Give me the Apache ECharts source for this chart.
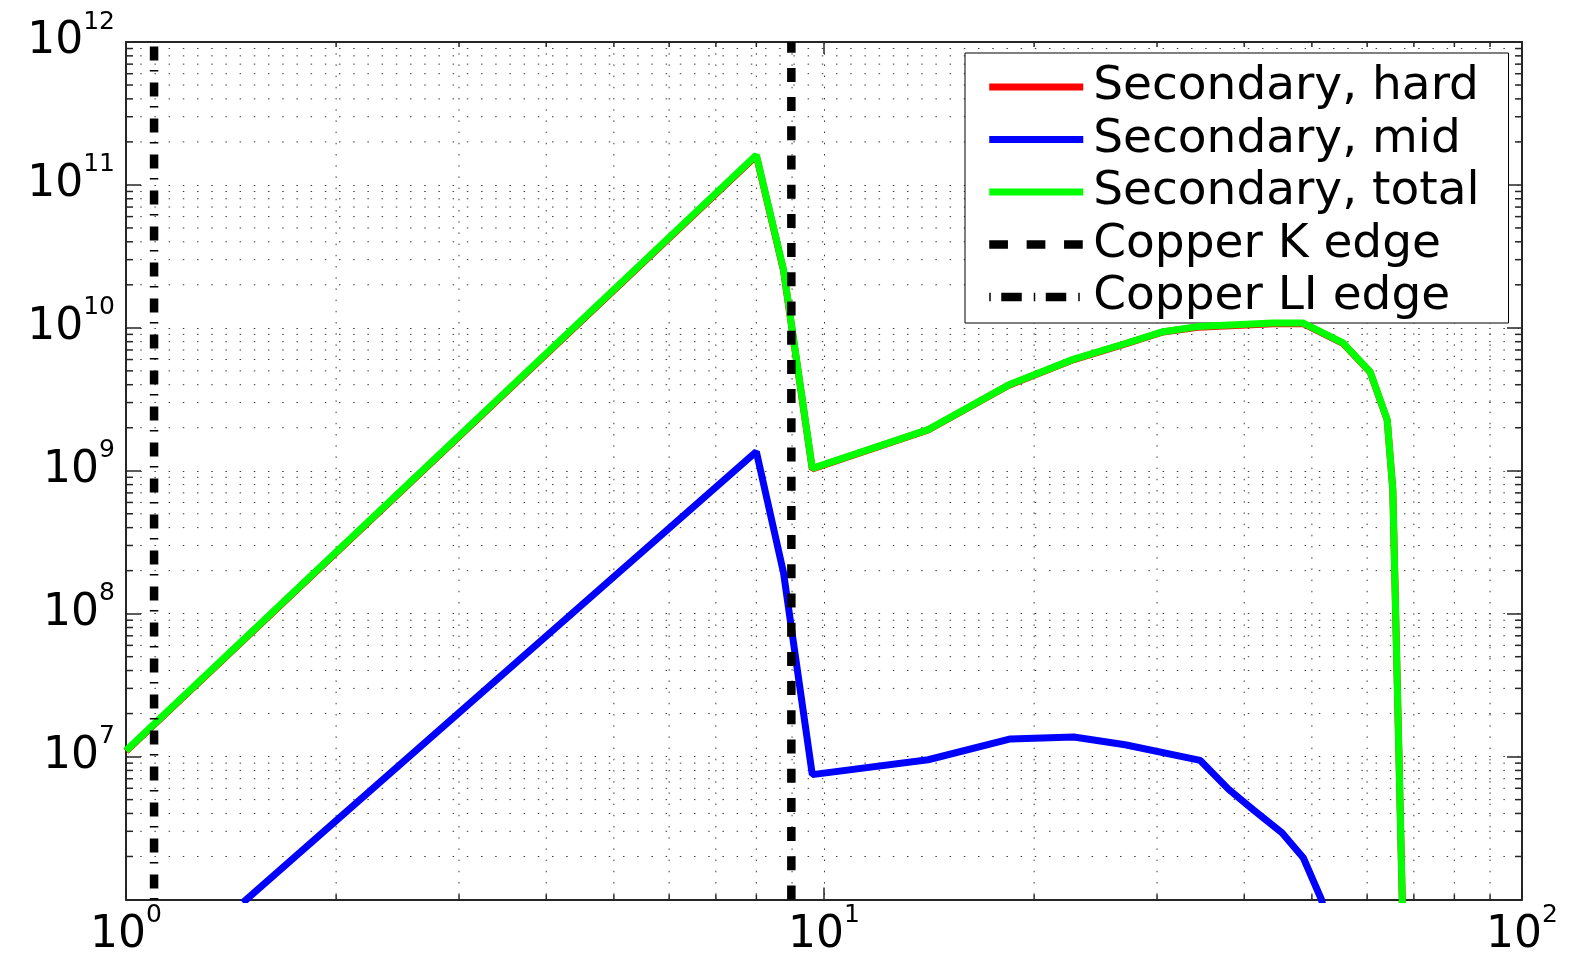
<!DOCTYPE html>
<html>
<head>
<meta charset="utf-8">
<script src="https://cdn.jsdelivr.net/npm/echarts@6/dist/echarts.min.js"></script>
<style>
html,body{margin:0;padding:0;background:#fff;}
#chart{width:1570px;height:968px;}
</style>
</head>
<body>
<div id="chart"></div>
<script>
// ---- axis limits ----
const X_MIN = 1, X_MAX = 100;
const Y_MIN = 1e6, Y_MAX = 1e12;

// ---- series: Secondary, hard ----
const HARD_X = [1.0, 8.0, 8.75, 9.62, 14.1, 18.4, 22.8, 27.1, 30.6, 34.3, 44.0, 48.6, 55.4, 60.6, 64.1, 65.3, 67.4];
const HARD_Y = [1.09e7, 1.60e11, 2.52e10, 1.03e9, 1.93e9, 3.97e9, 6.0e9, 7.75e9, 9.35e9, 1.01e10, 1.07e10, 1.07e10, 7.8e9, 4.9e9, 2.27e9, 7.35e8, 9e5];

// ---- series: Secondary, mid ----
const MID_X = [1.47, 8.0, 8.75, 9.62, 14.1, 18.5, 22.8, 27.0, 34.6, 38.0, 41.2, 45.3, 48.6, 51.6, 52.5];
const MID_Y = [9.5e5, 1.36e9, 1.93e8, 7.48e6, 9.5e6, 1.33e7, 1.37e7, 1.21e7, 9.4e6, 5.9e6, 4.25e6, 2.93e6, 1.96e6, 1.0e6, 7e5];

// ---- series: Secondary, total ----
const TOTAL_X = [1.0, 8.0, 8.75, 9.62, 14.1, 18.4, 22.8, 27.1, 30.6, 34.3, 44.0, 48.6, 55.4, 60.6, 64.1, 65.3, 67.4];
const TOTAL_Y = [1.1e7, 1.62e11, 2.55e10, 1.04e9, 1.94e9, 3.99e9, 6.04e9, 7.8e9, 9.4e9, 1.02e10, 1.08e10, 1.08e10, 7.85e9, 4.92e9, 2.28e9, 7.4e8, 9e5];

// ---- absorption edges (keV) ----
const CU_K_EDGE = 8.979;
const CU_L1_EDGE = 1.097;

// ---- legend names ----
const NAMES = ['Secondary, hard', 'Secondary, mid', 'Secondary, total', 'Copper K edge', 'Copper LI edge'];

// ---- minor grid values (2..9 times each decade) ----
const MINOR_MULT = [2, 3, 4, 5, 6, 7, 8, 9];
const X_DECADES = [1, 10];
const Y_DECADES = [1e6, 1e7, 1e8, 1e9, 1e10, 1e11];

const MINOR_X = [];
X_DECADES.forEach(d => MINOR_MULT.forEach(m => MINOR_X.push(m * d)));
const MINOR_Y = [];
Y_DECADES.forEach(d => MINOR_MULT.forEach(m => MINOR_Y.push(m * d)));

const zip = (xs, ys) => xs.map((x, i) => [x, ys[i]]);

const FONT = 'DejaVu Sans';
const AXIS_COLOR = '#262626';
const GRID_COLOR = '#3a3a3a';

const rich = {
  b: { fontFamily: FONT, fontSize: 44, lineHeight: 44, color: '#000', verticalAlign: 'middle' },
  e: { fontFamily: FONT, fontSize: 25, lineHeight: 25, color: '#000', padding: [0, 0, 40, 0], verticalAlign: 'middle' }
};
function powLabel(v) {
  const e = Math.round(Math.log10(v));
  return '{b|10}{e|' + e + '}';
}

function minorXItem(params, api) {
  const p = api.coord([api.value(0), Y_MIN]);
  const cs = params.coordSys;
  const top = cs.y, bot = cs.y + cs.height;
  return {
    type: 'group',
    children: [
      { type: 'line', shape: { x1: p[0], y1: top, x2: p[0], y2: bot },
        style: { stroke: GRID_COLOR, lineWidth: 1, lineDash: [1.5, 9.7] } },
      { type: 'line', shape: { x1: p[0], y1: bot, x2: p[0], y2: bot - 5 },
        style: { stroke: AXIS_COLOR, lineWidth: 1.5 } },
      { type: 'line', shape: { x1: p[0], y1: top, x2: p[0], y2: top + 5 },
        style: { stroke: AXIS_COLOR, lineWidth: 1.5 } }
    ]
  };
}
function minorYItem(params, api) {
  const p = api.coord([X_MIN, api.value(1)]);
  const cs = params.coordSys;
  const l = cs.x, r = cs.x + cs.width;
  return {
    type: 'group',
    children: [
      { type: 'line', shape: { x1: l, y1: p[1], x2: r, y2: p[1] },
        style: { stroke: GRID_COLOR, lineWidth: 1, lineDash: [1.5, 12.7] } },
      { type: 'line', shape: { x1: l, y1: p[1], x2: l + 7, y2: p[1] },
        style: { stroke: AXIS_COLOR, lineWidth: 1.5 } },
      { type: 'line', shape: { x1: r, y1: p[1], x2: r - 7, y2: p[1] },
        style: { stroke: AXIS_COLOR, lineWidth: 1.5 } }
    ]
  };
}

const chart = echarts.init(document.getElementById('chart'), null, { renderer: 'canvas' });

const baseX = {
  type: 'log', logBase: 10, min: X_MIN, max: X_MAX,
  axisLine: { show: true, onZero: false, lineStyle: { color: AXIS_COLOR, width: 2 } },
  axisTick: { show: true, inside: true, length: 12, lineStyle: { color: AXIS_COLOR, width: 1.5 } }
};
const baseY = {
  type: 'log', logBase: 10, min: Y_MIN, max: Y_MAX,
  axisLine: { show: true, onZero: false, lineStyle: { color: AXIS_COLOR, width: 2 } },
  axisTick: { show: true, inside: true, length: 15, lineStyle: { color: AXIS_COLOR, width: 1.5 } }
};

const option = {
  backgroundColor: '#fff',
  animation: false,
  grid: { left: 126, right: 48, top: 42, bottom: 68, containLabel: false },
  xAxis: [
    Object.assign({}, baseX, {
      position: 'bottom',
      axisLabel: { show: true, margin: 14, showMinLabel: true, showMaxLabel: true,
        formatter: powLabel, rich: rich },
      splitLine: { show: true, lineStyle: { color: GRID_COLOR, width: 1, type: [1.5, 9.7] } }
    }),
    Object.assign({}, baseX, {
      position: 'top',
      axisLabel: { show: false },
      splitLine: { show: false }
    })
  ],
  yAxis: [
    Object.assign({}, baseY, {
      position: 'left',
      axisLabel: { show: true, margin: 11, align: 'right', verticalAlign: 'middle',
        showMinLabel: true, showMaxLabel: true,
        formatter: function (v) {
          if (Math.round(Math.log10(v)) <= 6) return '';
          return powLabel(v);
        }, rich: rich },
      splitLine: { show: true, lineStyle: { color: GRID_COLOR, width: 1, type: [1.5, 12.7] } }
    }),
    Object.assign({}, baseY, {
      position: 'right',
      axisLabel: { show: false },
      splitLine: { show: false }
    })
  ],
  legend: {
    data: [
      { name: NAMES[0] },
      { name: NAMES[1] },
      { name: NAMES[2] },
      { name: NAMES[3], lineStyle: { width: 8.5, type: [18.7, 18.7] } },
      { name: NAMES[4], lineStyle: { width: 8.5, type: [1.5, 10.5, 20.5, 12] } }
    ],
    orient: 'vertical',
    left: 965, top: 53,
    itemWidth: 94, itemHeight: 14, itemGap: 0.5,
    padding: [8, 29, 0, 20],
    backgroundColor: '#fff',
    borderColor: '#000', borderWidth: 1, borderRadius: 0,
    selectedMode: false,
    itemStyle: { opacity: 0 },
    lineStyle: { width: 7 },
    textStyle: { fontFamily: FONT, fontSize: 47, color: '#000', lineHeight: 52, padding: [0, 0, 0, 5] }
  },
  series: [
    { type: 'custom', name: 'minorX', silent: true, z: 1, xAxisIndex: 0, yAxisIndex: 0,
      data: MINOR_X.map(v => [v, Y_MIN]), encode: { x: 0, y: 1 }, renderItem: minorXItem },
    { type: 'custom', name: 'minorY', silent: true, z: 1, xAxisIndex: 0, yAxisIndex: 0,
      data: MINOR_Y.map(v => [X_MIN, v]), encode: { x: 0, y: 1 }, renderItem: minorYItem },
    { type: 'line', name: NAMES[0], data: zip(HARD_X, HARD_Y), showSymbol: false, symbol: 'none',
      lineStyle: { color: '#ff0000', width: 7 }, itemStyle: { color: '#ff0000' }, z: 3, clip: true },
    { type: 'line', name: NAMES[1], data: zip(MID_X, MID_Y), showSymbol: false, symbol: 'none',
      lineStyle: { color: '#0000ff', width: 7 }, itemStyle: { color: '#0000ff' }, z: 4, clip: true },
    { type: 'line', name: NAMES[2], data: zip(TOTAL_X, TOTAL_Y), showSymbol: false, symbol: 'none',
      lineStyle: { color: '#00ff00', width: 7 }, itemStyle: { color: '#00ff00' }, z: 5, clip: true },
    { type: 'line', name: NAMES[3], data: [[CU_K_EDGE, Y_MIN], [CU_K_EDGE, Y_MAX]], showSymbol: false, symbol: 'none',
      lineStyle: { color: '#000', width: 8.5, type: [14, 15.2] }, itemStyle: { color: '#000' }, z: 6, clip: true },
    { type: 'line', name: NAMES[4], data: [[CU_L1_EDGE, Y_MIN], [CU_L1_EDGE, Y_MAX]], showSymbol: false, symbol: 'none',
      lineStyle: { color: '#000', width: 8.5, type: [1.5, 9.5, 14, 11] }, itemStyle: { color: '#000' }, z: 6, clip: true }
  ]
};
chart.setOption(option);
</script>
</body>
</html>
